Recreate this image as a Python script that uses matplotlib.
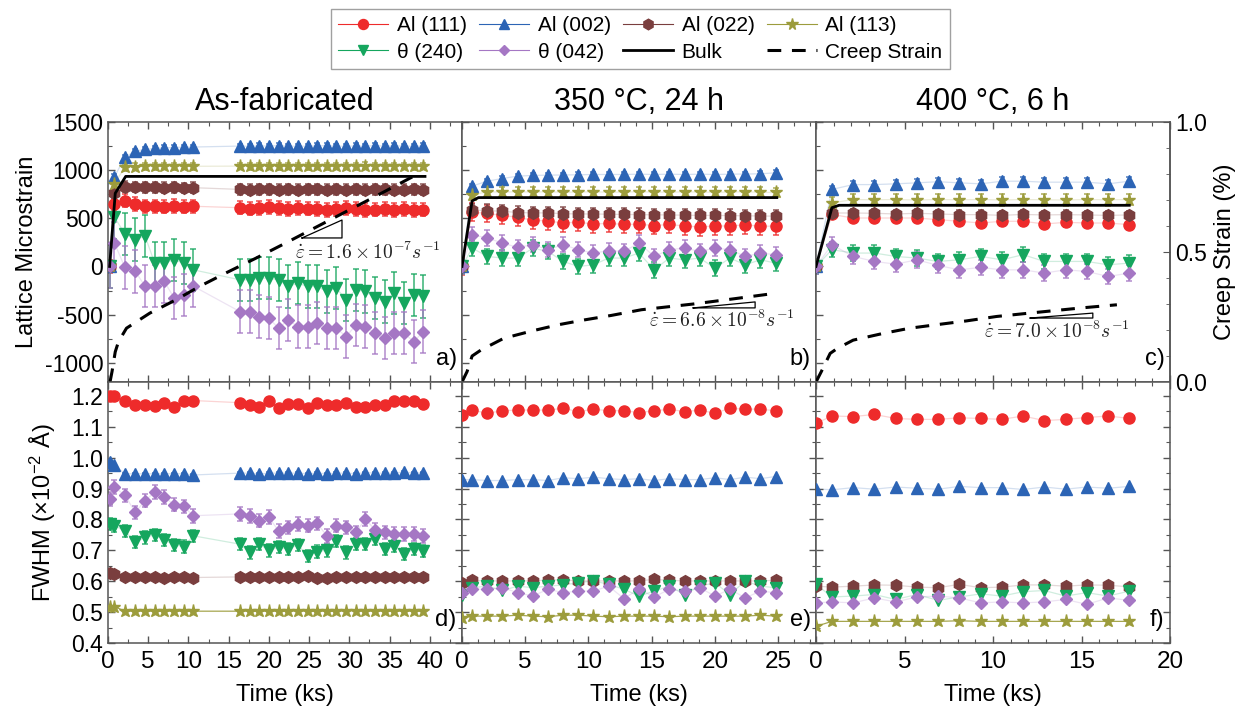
import matplotlib
matplotlib.use("Agg")
import matplotlib.pyplot as plt
from matplotlib.lines import Line2D
from matplotlib.ticker import MultipleLocator

plt.rcParams["font.family"] = ["Liberation Sans", "DejaVu Sans"]
plt.rcParams["mathtext.fontset"] = "custom"
plt.rcParams["mathtext.rm"] = "Liberation Sans"
plt.rcParams["mathtext.it"] = "Liberation Sans:italic"
plt.rcParams["axes.unicode_minus"] = False

# ---------------- series definitions ----------------
labels = ["Al (111)", "Al (002)", "Al (022)", "Al (113)", "θ (240)", "θ (042)"]
colors = ["#ee2b2b", "#2c64b5", "#7a3e3e", "#9c9c3c", "#15a65e", "#a577c4"]
markers = ["o", "^", "h", "*", "v", "D"]
msizes = [8, 8, 8.5, 9.5, 8, 6]

titles = ["As-fabricated", "350 °C, 24 h", "400 °C, 6 h"]
panel_tags = [["a)", "b)", "c)"], ["d)", "e)", "f)"]]
rate_texts = [r"$\dot{\varepsilon} = 1.6 \times 10^{-7} s^{-1}$",
              r"$\dot{\varepsilon} = 6.6 \times 10^{-8} s^{-1}$",
              r"$\dot{\varepsilon} = 7.0 \times 10^{-8} s^{-1}$"]

# ---------------- as-fabricated (a, d) ----------------
t_a = [0.2, 0.8, 2.1, 3.4, 4.6, 5.8, 7.0, 8.2, 9.4, 10.6,
       16.4, 17.6, 18.8, 20.0, 21.2, 22.4, 23.6, 24.8, 26.0, 27.2,
       28.4, 29.6, 30.8, 32.0, 33.2, 34.4, 35.6, 36.8, 38.0, 39.2]

a_111 = [0, 645, 684, 649, 625, 625, 620, 630, 620, 625,
         610, 600, 605, 615, 605, 595, 605, 600, 595, 585,
         595, 605, 595, 585, 590, 595, 585, 595, 585, 590]
a_002 = [0, 930, 1135, 1198, 1215, 1225, 1232, 1235, 1240, 1240,
         1250, 1248, 1252, 1250, 1255, 1250, 1248, 1250, 1252, 1255,
         1250, 1248, 1252, 1250, 1255, 1250, 1252, 1250, 1248, 1252]
a_022 = [0, 760, 830, 825, 820, 820, 818, 820, 815, 818,
         800, 798, 802, 800, 796, 800, 798, 800, 802, 798,
         800, 796, 800, 798, 802, 800, 798, 796, 800, 798]
a_113 = [0, 860, 1030, 1035, 1040, 1040, 1042, 1040, 1042, 1040,
         1042, 1040, 1044, 1042, 1040, 1042, 1044, 1040, 1042, 1040,
         1044, 1042, 1040, 1046, 1042, 1040, 1042, 1044, 1040, 1042]
a_240 = [0, 510, 340, 278, 318, 35, 35, 69, 35, -35,
         -139, -139, -122, -122, -139, -208, -174, -208, -208, -260,
         -226, -347, -243, -260, -330, -365, -278, -382, -295, -312]
a_042 = [0, 243, -10, -52, -205, -205, -156, -325, -298, -205,
         -469, -469, -521, -538, -642, -555, -625, -625, -590, -642,
         -642, -729, -608, -625, -694, -746, -694, -694, -781, -677]
err_a = [70, 25, 55, 35, 220, 220]

d_111 = [1.200, 1.200, 1.182, 1.171, 1.171, 1.168, 1.176, 1.165, 1.182, 1.185,
         1.178, 1.171, 1.165, 1.185, 1.160, 1.174, 1.174, 1.160, 1.176, 1.171,
         1.171, 1.176, 1.163, 1.163, 1.171, 1.171, 1.185, 1.182, 1.182, 1.174]
d_002 = [0.986, 0.975, 0.948, 0.948, 0.948, 0.948, 0.948, 0.948, 0.948, 0.944,
         0.950, 0.950, 0.947, 0.950, 0.950, 0.950, 0.950, 0.948, 0.950, 0.948,
         0.950, 0.950, 0.948, 0.952, 0.950, 0.950, 0.950, 0.954, 0.950, 0.952]
d_022 = [0.628, 0.625, 0.614, 0.614, 0.614, 0.614, 0.612, 0.613, 0.614, 0.612,
         0.614, 0.614, 0.614, 0.615, 0.614, 0.613, 0.614, 0.616, 0.612, 0.611,
         0.614, 0.614, 0.613, 0.614, 0.614, 0.614, 0.613, 0.614, 0.614, 0.615]
d_113 = [0.516, 0.518, 0.503, 0.503, 0.503, 0.503, 0.503, 0.503, 0.503, 0.503,
         0.503, 0.503, 0.503, 0.503, 0.503, 0.503, 0.504, 0.503, 0.503, 0.503,
         0.503, 0.504, 0.505, 0.503, 0.503, 0.503, 0.503, 0.503, 0.503, 0.504]
d_240 = [0.785, 0.780, 0.763, 0.726, 0.742, 0.750, 0.733, 0.718, 0.712, 0.747,
         0.720, 0.693, 0.720, 0.700, 0.711, 0.704, 0.718, 0.682, 0.696, 0.700,
         0.731, 0.693, 0.720, 0.720, 0.736, 0.704, 0.715, 0.688, 0.704, 0.698]
d_042 = [0.867, 0.905, 0.878, 0.823, 0.861, 0.888, 0.872, 0.848, 0.842, 0.812,
         0.818, 0.812, 0.796, 0.807, 0.763, 0.774, 0.785, 0.780, 0.787, 0.747,
         0.780, 0.774, 0.758, 0.801, 0.766, 0.758, 0.753, 0.753, 0.753, 0.747]
err_d = [0.004, 0.003, 0.003, 0.002, 0.02, 0.022]

bulk_t_a = [0.2, 0.9, 2.2, 39.4]
bulk_a = [0, 760, 935, 935]
creep_t_a = [0.25, 0.5, 0.9, 1.3, 2.3, 5.2, 8.5, 11.4, 14.7, 18.5, 21.8, 28.0, 33.0, 37.9]
creep_a = [0, 0.04, 0.116, 0.155, 0.207, 0.265, 0.317, 0.368, 0.42, 0.478, 0.53, 0.63, 0.71, 0.79]

# ---------------- 350 °C, 24 h (b, e) ----------------
t_b = [0, 0.8, 2.0, 3.2, 4.4, 5.6, 6.8, 8.0, 9.2, 10.4, 11.6,
       12.8, 14.0, 15.2, 16.4, 17.6, 18.8, 20.0, 21.2, 22.4, 23.6, 24.8]

b_111 = [0, 565, 550, 530, 510, 480, 472, 451, 460, 440, 448,
         436, 438, 425, 436, 420, 410, 420, 420, 432, 418, 418]
b_002 = [0, 834, 886, 913, 938, 945, 948, 950, 952, 955, 955,
         955, 958, 955, 958, 955, 958, 955, 958, 960, 962, 972]
b_022 = [0, 585, 580, 573, 560, 556, 556, 548, 545, 545, 542,
         540, 538, 536, 535, 532, 530, 530, 528, 526, 524, 522]
b_113 = [0, 745, 775, 772, 775, 772, 775, 770, 772, 775, 770,
         772, 775, 772, 770, 775, 772, 770, 772, 775, 770, 768]
b_240 = [0, 191, 104, 87, 87, 191, 156, 52, 0, 17, 87,
         87, 139, -35, 87, 69, 87, -17, 87, 17, 69, 35]
b_042 = [0, 330, 295, 243, 198, 226, 174, 226, 174, 139, 163,
         156, 243, 104, 174, 191, 156, 191, 174, 104, 139, 122]
err_b = [90, 25, 65, 50, 80, 80]

e_111 = [1.138, 1.154, 1.144, 1.152, 1.154, 1.154, 1.154, 1.160, 1.149, 1.157, 1.152,
         1.152, 1.146, 1.152, 1.157, 1.149, 1.154, 1.144, 1.160, 1.157, 1.157, 1.152]
e_002 = [0.929, 0.929, 0.926, 0.926, 0.929, 0.929, 0.926, 0.935, 0.932, 0.937, 0.932,
         0.929, 0.932, 0.926, 0.932, 0.929, 0.929, 0.935, 0.929, 0.937, 0.932, 0.939]
e_022 = [0.595, 0.603, 0.601, 0.601, 0.601, 0.601, 0.604, 0.604, 0.601, 0.601, 0.601,
         0.601, 0.601, 0.606, 0.603, 0.601, 0.601, 0.601, 0.601, 0.601, 0.601, 0.603]
e_113 = [0.481, 0.487, 0.487, 0.487, 0.490, 0.487, 0.485, 0.490, 0.490, 0.487, 0.485,
         0.487, 0.487, 0.487, 0.485, 0.487, 0.487, 0.487, 0.487, 0.487, 0.490, 0.487]
e_240 = [0.557, 0.579, 0.584, 0.570, 0.584, 0.579, 0.584, 0.588, 0.595, 0.601, 0.590,
         0.574, 0.552, 0.568, 0.584, 0.557, 0.584, 0.595, 0.557, 0.601, 0.584, 0.579]
e_042 = [0.563, 0.574, 0.574, 0.579, 0.563, 0.552, 0.574, 0.563, 0.568, 0.568, 0.584,
         0.544, 0.574, 0.549, 0.574, 0.568, 0.579, 0.552, 0.574, 0.546, 0.568, 0.563]
err_e = [0, 0, 0, 0, 0, 0]

bulk_t_b = [0, 0.8, 1.3, 24.9]
bulk_b = [0, 680, 715, 715]
creep_t_b = [0, 0.4, 0.8, 1.5, 3.3, 5.5, 7.6, 9.7, 11.8, 14.2, 18.3, 21.5, 24.9]
creep_b = [0, 0.04, 0.10, 0.123, 0.168, 0.196, 0.22, 0.239, 0.256, 0.278, 0.30, 0.32, 0.342]

# ---------------- 400 °C, 6 h (c, f) ----------------
t_c = [0, 0.9, 2.1, 3.3, 4.5, 5.7, 6.9, 8.1, 9.3, 10.5, 11.7, 12.9, 14.1, 15.3, 16.5, 17.7]

c_111 = [0, 540, 503, 503, 503, 503, 486, 469, 451, 469, 469, 441, 458, 451, 451, 434]
c_002 = [0, 800, 850, 850, 858, 868, 880, 868, 858, 885, 885, 875, 875, 875, 858, 885]
c_022 = [0, 555, 555, 552, 545, 552, 545, 538, 538, 531, 540, 535, 538, 535, 530, 535]
c_113 = [0, 660, 695, 692, 695, 690, 695, 692, 695, 690, 695, 692, 690, 695, 692, 695]
c_240 = [0, 174, 139, 139, 104, 87, 52, 69, 104, 69, 122, 52, 52, 52, 17, 35]
c_042 = [0, 226, 104, 52, 24, 69, 10, -35, -10, -35, -35, -69, -35, -52, -104, -69]
err_c = [45, 40, 45, 60, 80, 80]

f_111 = [1.111, 1.135, 1.133, 1.140, 1.127, 1.124, 1.124, 1.129, 1.127, 1.124, 1.135, 1.120, 1.124, 1.130, 1.135, 1.127]
f_002 = [0.899, 0.896, 0.903, 0.898, 0.905, 0.901, 0.898, 0.907, 0.903, 0.903, 0.897, 0.905, 0.898, 0.905, 0.901, 0.907]
f_022 = [0.584, 0.581, 0.584, 0.588, 0.587, 0.581, 0.579, 0.590, 0.579, 0.581, 0.588, 0.588, 0.584, 0.588, 0.587, 0.582]
f_113 = [0.454, 0.470, 0.470, 0.470, 0.470, 0.470, 0.470, 0.472, 0.470, 0.470, 0.470, 0.470, 0.470, 0.470, 0.470, 0.470]
f_240 = [0.590, 0.549, 0.552, 0.557, 0.541, 0.557, 0.538, 0.549, 0.559, 0.552, 0.566, 0.570, 0.552, 0.563, 0.552, 0.568]
f_042 = [0.530, 0.533, 0.530, 0.546, 0.533, 0.549, 0.552, 0.546, 0.530, 0.533, 0.530, 0.533, 0.541, 0.525, 0.546, 0.538]
err_f = [0, 0, 0, 0, 0, 0]

bulk_t_c = [0, 0.9, 1.3, 17.7]
bulk_c = [0, 610, 635, 635]
creep_t_c = [0, 0.3, 0.8, 1.2, 2.1, 3.8, 5.3, 7.0, 8.5, 10.2, 12.5, 15.0, 17.0]
creep_c = [0, 0.04, 0.11, 0.129, 0.161, 0.187, 0.207, 0.222, 0.235, 0.252, 0.268, 0.285, 0.297]

# ---------------- layout ----------------
W, H = 1246, 710
fig = plt.figure(figsize=(W / 100, H / 100), dpi=100)

lefts = [108, 462, 816]
pw = 354
top_rows = (122, 382)
bot_rows = (382, 643)
xlims = [44, 28, 20]
xminor = [2.5, 1.25, 1.0]
xmax_tick = [40, 25, 20]
spine_c = "#555555"
dash_style = (0, (4.5, 3.5))


def px_axes(x0, y0, x1, y1):
    return fig.add_axes([x0 / W, 1 - y1 / H, (x1 - x0) / W, (y1 - y0) / H])


def style_axes(ax, col):
    for s in ax.spines.values():
        s.set_color(spine_c)
        s.set_linewidth(1.1)
    ax.tick_params(which="both", direction="in", top=True, right=True,
                   color=spine_c, labelsize=16.5)
    ax.tick_params(which="major", length=5, width=1)
    ax.tick_params(which="minor", length=3, width=0.8)
    ax.set_xlim(0, xlims[col])
    ax.xaxis.set_major_locator(MultipleLocator(5))
    ax.xaxis.set_minor_locator(MultipleLocator(xminor[col]))


def draw_series(ax, t, data, errs, yellow_line_alpha):
    for i, vals in enumerate(data):
        la = yellow_line_alpha if i == 3 else 0.2
        ax.plot(t, vals, color=colors[i], lw=0.9, alpha=la, zorder=1)
        if errs[i] > 0:
            ax.errorbar(t, vals, yerr=errs[i], fmt="none", ecolor=colors[i],
                        elinewidth=1.1, capsize=2.5, capthick=1.1, alpha=0.85, zorder=2)
        ax.plot(t, vals, linestyle="none", marker=markers[i], ms=msizes[i],
                color=colors[i], mec=colors[i], zorder=3)


top_data = [
    (t_a, [a_111, a_002, a_022, a_113, a_240, a_042], err_a, bulk_t_a, bulk_a, creep_t_a, creep_a),
    (t_b, [b_111, b_002, b_022, b_113, b_240, b_042], err_b, bulk_t_b, bulk_b, creep_t_b, creep_b),
    (t_c, [c_111, c_002, c_022, c_113, c_240, c_042], err_c, bulk_t_c, bulk_c, creep_t_c, creep_c),
]
bot_data = [
    (t_a, [d_111, d_002, d_022, d_113, d_240, d_042], err_d),
    (t_b, [e_111, e_002, e_022, e_113, e_240, e_042], err_e),
    (t_c, [f_111, f_002, f_022, f_113, f_240, f_042], err_f),
]

# slope triangles (axes fractions) and rate-label anchors
tri_pos = [(0.548, 0.661, 0.554, 0.623), (0.653, 0.828, 0.285, 0.308), (0.605, 0.782, 0.246, 0.265)]
rate_pos = [(0.734, 0.50), (0.734, 0.238), (0.681, 0.195)]

for col in range(3):
    x0 = lefts[col]
    # ---- lattice strain panel ----
    ax = px_axes(x0, top_rows[0], x0 + pw, top_rows[1])
    style_axes(ax, col)
    t, data, errs, bt, bv, ct, cv = top_data[col]
    draw_series(ax, t, data, errs, 0.2)
    ax.plot(bt, bv, color="black", lw=2, zorder=4)
    ax.set_ylim(-1200, 1500)
    ax.yaxis.set_major_locator(MultipleLocator(500))
    ax.yaxis.set_minor_locator(MultipleLocator(250))
    ax.tick_params(labelbottom=False)
    if col == 0:
        ax.set_yticks([-1000, -500, 0, 500, 1000, 1500])
        ax.set_ylabel("Lattice Microstrain", fontsize=17)
        ax.yaxis.set_label_coords(-0.197, 0.5)
    else:
        ax.tick_params(labelleft=False)
    ax.set_title(titles[col], fontsize=22, pad=9)
    ax.text(0.985, 0.045, panel_tags[0][col], transform=ax.transAxes,
            ha="right", va="bottom", fontsize=17)

    # creep strain on a secondary scale
    axt = ax.twinx()
    axt.set_ylim(0, 1.0)
    axt.set_xlim(0, xlims[col])
    axt.plot(ct, cv, color="black", lw=2.2, linestyle=dash_style)
    for s in axt.spines.values():
        s.set_visible(False)
    if col == 2:
        axt.spines["right"].set_visible(True)
        axt.spines["right"].set_color(spine_c)
        axt.spines["right"].set_linewidth(1.1)
        axt.yaxis.set_major_locator(MultipleLocator(0.5))
        axt.yaxis.set_minor_locator(MultipleLocator(0.1))
        axt.tick_params(which="both", direction="in", color=spine_c, labelsize=16.5)
        axt.tick_params(which="major", length=5)
        axt.tick_params(which="minor", length=3)
        axt.set_yticks([0.0, 0.5, 1.0])
        axt.set_yticklabels(["0.0", "0.5", "1.0"])
        axt.set_ylabel("Creep Strain (%)", fontsize=17)
        axt.yaxis.set_label_coords(1.125, 0.5)
    else:
        axt.tick_params(which="both", right=False, labelright=False)

    xa, xb, ya, yb = tri_pos[col]
    ax.plot([xa, xb, xb, xa], [ya, ya, yb, ya], transform=ax.transAxes,
            color="black", lw=0.9, zorder=5)
    rx, ry = rate_pos[col]
    ax.text(rx, ry, rate_texts[col], transform=ax.transAxes, ha="center", va="center",
            fontsize=14, math_fontfamily="cm", color="#222222")

    # ---- peak width panel ----
    bx = px_axes(x0, bot_rows[0], x0 + pw, bot_rows[1])
    style_axes(bx, col)
    t, data, errs = bot_data[col]
    draw_series(bx, t, data, errs, 0.9)
    bx.set_ylim(0.4, 1.245)
    bx.yaxis.set_major_locator(MultipleLocator(0.1))
    bx.yaxis.set_minor_locator(MultipleLocator(0.05))
    bx.set_xticks(list(range(0, xmax_tick[col] + 1, 5)))
    bx.tick_params(axis="x", labelsize=17.5, pad=6)
    bx.set_xlim(0, xlims[col])
    if col == 0:
        bx.set_yticks([0.4, 0.5, 0.6, 0.7, 0.8, 0.9, 1.0, 1.1, 1.2])
        bx.set_yticklabels(["0.4", "0.5", "0.6", "0.7", "0.8", "0.9", "1.0", "1.1", "1.2"])
        bx.set_ylabel(r"FWHM ($\times$10$^{-2}$ Å)", fontsize=17)
        bx.yaxis.set_label_coords(-0.142, 0.5)
    else:
        bx.tick_params(labelleft=False)
    bx.set_xlabel("Time (ks)", fontsize=17, labelpad=8)
    bx.text(0.985, 0.045, panel_tags[1][col], transform=bx.transAxes,
            ha="right", va="bottom", fontsize=17)

# ---------------- legend ----------------
handles = [Line2D([], [], color=colors[i], marker=markers[i], ms=msizes[i] * 0.9,
                  lw=0.8, mec=colors[i]) for i in range(6)]
handles.append(Line2D([], [], color="black", lw=2))
handles.append(Line2D([], [], color="black", lw=2.2, linestyle=dash_style))
names = labels + ["Bulk", "Creep Strain"]
order = [0, 4, 1, 5, 2, 6, 3, 7]
leg = fig.legend([handles[i] for i in order], [names[i] for i in order],
                 ncol=4, loc="upper center", bbox_to_anchor=(0.514, 1.002),
                 fontsize=15, frameon=True, fancybox=False, edgecolor="#888888",
                 handlelength=2.4, handletextpad=0.4, columnspacing=0.6,
                 labelspacing=0.35, borderpad=0.35)
leg.get_frame().set_linewidth(1.0)

fig.savefig("out.png", dpi=100)
